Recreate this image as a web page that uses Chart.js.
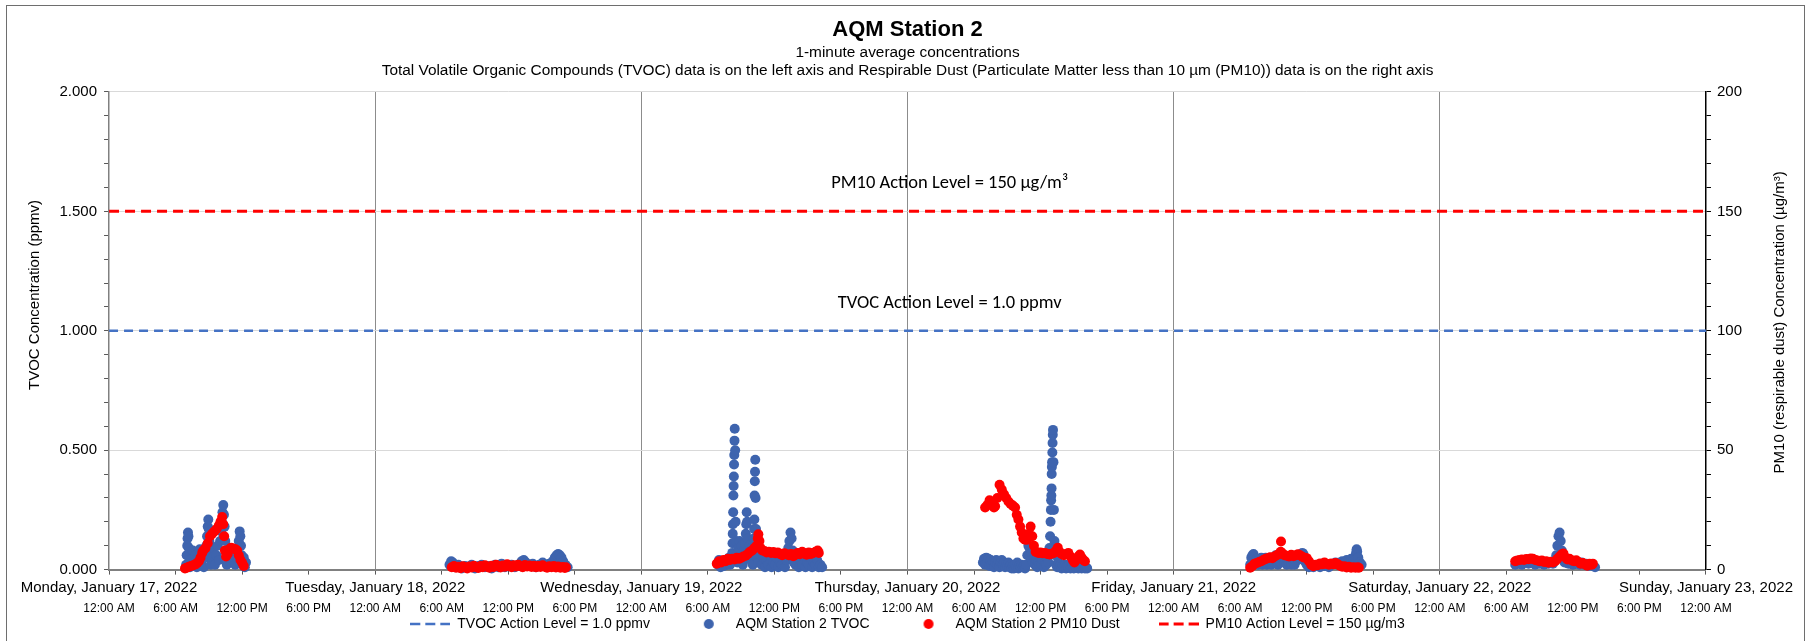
<!DOCTYPE html>
<html>
<head>
<meta charset="utf-8">
<title>AQM Station 2</title>
<script src="https://cdn.jsdelivr.net/npm/chart.js@4.4.1/dist/chart.umd.min.js"></script>
<style>
  html, body { margin: 0; padding: 0; background: #fff; }
  #wrap { position: relative; width: 1807px; height: 641px; overflow: hidden; }
  #frame { position: absolute; left: 6px; top: 5px; width: 1799px; height: 660px;
           border: 1.5px solid #6e6e6e; box-sizing: border-box; pointer-events: none; }
</style>
</head>
<body>
<div id="wrap">
  <canvas id="chart" width="1807" height="641"></canvas>
  <div id="frame"></div>
</div>
<script>
// x axis categories
const dayLabels = ['Monday, January 17, 2022', 'Tuesday, January 18, 2022', 'Wednesday, January 19, 2022',
  'Thursday, January 20, 2022', 'Friday, January 21, 2022', 'Saturday, January 22, 2022', 'Sunday, January 23, 2022'];
const timeLabels = ['12:00 AM', '6:00 AM', '12:00 PM', '6:00 PM'];

const tvocActionLevel = 1.0;   // ppmv
const pm10ActionLevel = 150;   // ug/m3

// readings: [hour of the day, value]
// TVOC (ppmv)
const tvocJan17 = [[6.95,0.02],[7.0,0.06],[7.05,0.1],[7.08,0.13],[7.12,0.155],[7.16,0.14],[7.2,0.09],[7.25,0.05],[7.3,0.01],
  [7.42,0.045],[7.55,0.08],[7.68,0.02],[7.8,0.06],[7.92,0.01],[8.05,0.05],[8.18,0.085],[8.3,0.03],[8.42,0.06],[8.55,0.01],
  [8.68,0.05],[8.78,0.1],[8.84,0.14],[8.9,0.18],[8.95,0.21],[9.0,0.17],[9.05,0.12],[9.1,0.07],[9.18,0.02],
  [9.3,0.05],[9.42,0.09],[9.55,0.02],[9.68,0.06],[9.8,0.1],[9.92,0.04],[10.02,0.12],[10.1,0.16],[10.17,0.2],[10.23,0.24],
  [10.3,0.27],[10.36,0.23],[10.42,0.18],[10.48,0.12],[10.55,0.07],[10.62,0.02],[10.75,0.05],[10.88,0.09],[11.0,0.03],
  [11.12,0.07],[11.25,0.08],[11.38,0.02],[11.5,0.05],[11.62,0.09],[11.7,0.12],[11.78,0.16],[11.84,0.14],[11.9,0.1],
  [11.96,0.06],[12.05,0.02],[12.15,0.05],[12.25,0.01],[12.35,0.03]];
const tvocJan18 = [[6.7,0.02],[6.85,0.035],[7.0,0.03],[7.2,0.01],[7.5,0.02],[7.8,0.005],[8.1,0.015],[8.4,0.01],[8.7,0.02],
  [9.0,0.005],[9.3,0.015],[9.6,0.02],[9.9,0.01],[10.2,0.015],[10.5,0.005],[10.8,0.02],[11.1,0.01],[11.4,0.025],[11.7,0.01],
  [12.0,0.015],[12.3,0.02],[12.6,0.01],[12.9,0.02],[13.2,0.035],[13.4,0.04],[13.6,0.03],[13.9,0.015],[14.2,0.025],[14.5,0.01],
  [14.8,0.02],[15.1,0.03],[15.4,0.02],[15.7,0.025],[16.0,0.035],[16.2,0.05],[16.35,0.06],[16.5,0.065],[16.65,0.06],
  [16.8,0.05],[16.95,0.035],[17.15,0.02],[17.35,0.01]];
const tvocJan19 = [[6.9,0.02],[7.0,0.04],[7.15,0.01],[7.3,0.03],[7.45,0.015],[7.6,0.04],[7.75,0.02],[7.9,0.05],[8.0,0.02],[8.12,0.04],
  [8.2,0.07],[8.22,0.11],[8.24,0.15],[8.26,0.19],[8.28,0.24],[8.3,0.31],[8.32,0.35],[8.34,0.39],[8.36,0.44],[8.38,0.48],
  [8.4,0.54],[8.42,0.59],[8.46,0.5],[8.5,0.2],[8.52,0.12],[8.55,0.06],[8.65,0.03],[8.75,0.09],[8.85,0.12],[8.95,0.05],
  [9.05,0.1],[9.15,0.02],[9.25,0.08],[9.35,0.11],[9.42,0.15],[9.46,0.19],[9.5,0.24],[9.54,0.2],[9.58,0.13],[9.65,0.07],
  [9.75,0.1],[9.85,0.04],[9.95,0.09],[10.05,0.02],[10.1,0.08],[10.14,0.13],[10.17,0.17],[10.19,0.21],[10.21,0.31],
  [10.23,0.37],[10.25,0.41],[10.27,0.46],[10.3,0.3],[10.34,0.17],[10.38,0.1],[10.45,0.05],[10.55,0.03],[10.7,0.08],
  [10.85,0.02],[11.0,0.05],[11.15,0.01],[11.3,0.04],[11.45,0.02],[11.6,0.06],[11.75,0.01],[11.9,0.03],[12.05,0.02],
  [12.2,0.05],[12.35,0.01],[12.5,0.03],[12.65,0.02],[12.8,0.06],[12.95,0.01],[13.1,0.04],[13.25,0.09],[13.35,0.12],
  [13.45,0.155],[13.55,0.13],[13.65,0.08],[13.75,0.03],[13.9,0.02],[14.05,0.05],[14.2,0.01],[14.35,0.04],[14.5,0.02],
  [14.65,0.06],[14.8,0.01],[14.95,0.03],[15.1,0.02],[15.25,0.05],[15.4,0.01],[15.55,0.03],[15.7,0.02],[15.85,0.04],
  [16.0,0.01],[16.15,0.02],[16.3,0.01]];
const tvocJan20 = [[6.8,0.03],[6.9,0.045],[7.0,0.02],[7.1,0.05],[7.2,0.03],[7.3,0.045],[7.4,0.015],[7.5,0.04],[7.6,0.02],
  [7.7,0.035],[7.8,0.01],[7.9,0.03],[8.0,0.04],[8.1,0.02],[8.2,0.035],[8.3,0.01],[8.4,0.03],[8.5,0.04],[8.6,0.02],[8.7,0.03],
  [8.8,0.01],[8.9,0.025],[9.0,0.015],[9.1,0.03],[9.2,0.01],[9.3,0.02],[9.4,0.005],[9.5,0.015],[9.6,0.005],[9.7,0.02],
  [9.8,0.01],[9.9,0.03],[10.0,0.005],[10.1,0.02],[10.2,0.01],[10.3,0.02],[10.4,0.01],[10.5,0.015],[10.6,0.005],[10.7,0.02],
  [10.8,0.06],[10.9,0.1],[11.0,0.09],[11.1,0.05],[11.2,0.07],[11.3,0.03],[11.4,0.05],[11.5,0.02],[11.6,0.04],[11.7,0.01],
  [11.8,0.03],[11.9,0.02],[12.0,0.05],[12.1,0.02],[12.2,0.04],[12.3,0.01],[12.4,0.03],[12.5,0.02],[12.6,0.05],[12.7,0.03],
  [12.8,0.09],[12.86,0.14],[12.9,0.2],[12.93,0.25],[12.95,0.29],[12.97,0.31],[12.99,0.34],[13.0,0.4],[13.02,0.43],
  [13.04,0.45],[13.06,0.49],[13.08,0.53],[13.1,0.565],[13.12,0.585],[13.16,0.45],[13.2,0.25],[13.25,0.12],[13.3,0.06],
  [13.4,0.02],[13.5,0.01],[13.6,0.03],[13.7,0.01],[13.8,0.02],[13.9,0.005],[14.0,0.015],[14.1,0.01],[14.2,0.02],[14.3,0.005],
  [14.4,0.015],[14.5,0.01],[14.6,0.02],[14.7,0.005],[14.8,0.01],[14.9,0.02],[15.0,0.005],[15.1,0.015],[15.2,0.01],
  [15.3,0.02],[15.4,0.005],[15.5,0.01],[15.6,0.015],[15.7,0.005],[15.8,0.01],[15.9,0.02],[16.0,0.005],[16.1,0.01],[16.2,0.005]];
const tvocJan21 = [[6.9,0.02],[7.0,0.05],[7.1,0.06],[7.2,0.065],[7.3,0.05],[7.4,0.03],[7.5,0.045],[7.6,0.02],[7.7,0.04],
  [7.8,0.03],[7.9,0.05],[8.0,0.02],[8.1,0.04],[8.2,0.03],[8.3,0.05],[8.4,0.02],[8.5,0.04],[8.6,0.03],[8.7,0.05],[8.8,0.02],
  [8.9,0.04],[9.0,0.05],[9.1,0.03],[9.2,0.06],[9.3,0.04],[9.4,0.02],[9.5,0.04],[9.6,0.03],[9.7,0.05],[9.8,0.065],[9.9,0.05],
  [10.0,0.03],[10.1,0.04],[10.2,0.02],[10.3,0.04],[10.4,0.03],[10.5,0.05],[10.6,0.02],[10.7,0.04],[10.8,0.03],[10.9,0.02],
  [11.0,0.035],[11.2,0.04],[11.4,0.05],[11.5,0.06],[11.6,0.07],[11.7,0.065],[11.8,0.05],[11.9,0.03],[12.0,0.02],[12.2,0.01],
  [12.4,0.02],[12.6,0.01],[12.8,0.015],[13.0,0.02],[13.2,0.01],[13.4,0.025],[13.6,0.015],[13.8,0.02],[14.0,0.01],[14.2,0.02],
  [14.4,0.025],[14.6,0.03],[14.8,0.02],[15.0,0.03],[15.2,0.035],[15.4,0.03],[15.6,0.04],[15.8,0.035],[16.0,0.045],
  [16.2,0.04],[16.35,0.055],[16.45,0.07],[16.5,0.085],[16.55,0.075],[16.65,0.05],[16.8,0.03],[16.95,0.02]];
const tvocJan22 = [[6.8,0.02],[6.9,0.035],[7.0,0.025],[7.2,0.035],[7.4,0.02],[7.6,0.03],[7.8,0.035],[8.0,0.025],[8.2,0.03],
  [8.4,0.035],[8.6,0.02],[8.8,0.03],[9.0,0.025],[9.2,0.03],[9.4,0.02],[9.6,0.03],[9.8,0.025],[10.0,0.03],[10.2,0.025],
  [10.4,0.04],[10.5,0.06],[10.6,0.1],[10.7,0.14],[10.8,0.155],[10.9,0.12],[11.0,0.08],[11.1,0.05],[11.25,0.03],[11.4,0.035],
  [11.6,0.025],[11.8,0.03],[12.0,0.02],[12.2,0.03],[12.4,0.025],[12.6,0.02],[12.8,0.03],[13.0,0.02],[13.2,0.025],
  [13.4,0.015],[13.6,0.02],[13.8,0.015],[14.0,0.01]];

// PM10 dust (ug/m3)
const pm10Jan17 = [[6.85,0.5],[7.0,0.8],[7.2,1.2],[7.4,1.5],[7.6,1.8],[7.8,2.2],[7.95,2.8],[8.1,3.5],[8.25,5],[8.4,7],
  [8.5,8],[8.7,9],[8.9,11],[9.1,14],[9.3,15],[9.5,16],[9.7,17],[9.9,18.5],[10.05,20],[10.2,22],[10.3,19],[10.38,14],
  [10.45,8],[10.55,5.5],[10.7,6.5],[10.85,8.5],[11.0,9.2],[11.2,8.8],[11.4,8.5],[11.55,8],[11.7,6],[11.85,4],[12.0,2.9],[12.15,1.5]];
const pm10Jan18 = [[6.9,1.0],[7.1,1.5],[7.3,0.8],[7.5,1.2],[7.7,0.6],[7.9,1.4],[8.1,1.0],[8.3,0.5],[8.5,1.3],[8.7,0.9],
  [8.9,1.6],[9.1,1.1],[9.3,0.7],[9.5,1.5],[9.7,1.0],[9.9,1.8],[10.1,1.2],[10.3,0.8],[10.5,1.6],[10.7,1.1],[10.9,2.0],
  [11.1,1.4],[11.3,0.9],[11.5,1.7],[11.7,1.2],[11.9,2.2],[12.1,1.5],[12.3,1.0],[12.5,1.8],[12.7,1.3],[12.9,2.0],[13.1,1.4],
  [13.3,1.0],[13.5,1.9],[13.7,1.3],[13.9,1.7],[14.1,1.1],[14.3,1.6],[14.5,1.0],[14.7,1.5],[14.9,1.1],[15.1,1.8],[15.3,1.2],
  [15.5,0.8],[15.7,1.4],[15.9,1.0],[16.1,1.5],[16.3,0.9],[16.5,1.3],[16.7,0.8],[16.9,1.1],[17.1,0.7],[17.2,1.0]];
const pm10Jan19 = [[6.8,2.5],[7.0,3.5],[7.2,3],[7.4,4],[7.6,3.5],[7.8,4.5],[8.0,4],[8.2,4.5],[8.4,4.2],[8.6,5],[8.8,4.5],
  [9.0,5],[9.2,5.5],[9.4,5.8],[9.6,6.5],[9.8,7.5],[10.0,8],[10.2,9],[10.4,10],[10.5,13],[10.55,14.8],[10.65,12],[10.75,9],
  [10.9,8],[11.1,7.8],[11.3,7.2],[11.5,7.5],[11.7,7],[11.9,7.4],[12.1,6.8],[12.3,7.2],[12.5,6.5],[12.7,6],[12.9,6.8],
  [13.1,6.4],[13.3,6],[13.5,6.5],[13.7,5.6],[13.9,6.2],[14.1,7],[14.3,6.4],[14.5,7.5],[14.7,6.8],[14.9,6.2],[15.1,7.2],
  [15.3,6.5],[15.5,7],[15.7,7.5],[15.9,8],[16.0,7]];
const pm10Jan20 = [[7.0,26],[7.2,27],[7.4,29],[7.6,28],[7.8,26],[7.9,26.5],[8.1,30],[8.3,35.5],[8.5,33.5],[8.7,31.5],
  [8.9,30],[9.1,28.5],[9.3,27.5],[9.5,26.8],[9.7,26],[9.85,23],[10.0,21],[10.15,18],[10.3,15.5],[10.45,13],[10.6,12.5],
  [10.8,12.5],[10.95,15],[11.1,18],[11.25,14],[11.4,10],[11.55,7.5],[11.7,7.2],[11.85,7],[12.0,7.2],[12.2,6.8],[12.4,7],
  [12.6,6.5],[12.8,6.3],[13.0,6.6],[13.2,7],[13.4,8],[13.55,9.2],[13.7,7.5],[13.9,6.5],[14.1,6],[14.3,6.5],[14.5,7],
  [14.7,5.5],[14.9,4],[15.05,3],[15.2,4],[15.4,5.5],[15.55,6.3],[15.7,5],[15.85,4],[16.0,3.5]];
const pm10Jan21 = [[6.9,0.8],[7.1,1.5],[7.3,2.5],[7.5,2.8],[7.7,3.2],[7.9,3.5],[8.1,4],[8.3,4.5],[8.5,4.8],[8.7,5.2],
  [8.9,4.8],[9.1,5.5],[9.3,6],[9.5,6.5],[9.65,7.5],[9.68,11.8],[9.8,6.8],[10.0,6],[10.2,5.8],[10.4,5.5],[10.6,6.2],[10.8,5.6],
  [11.0,6],[11.2,6.4],[11.4,6],[11.6,5.4],[11.8,5],[12.0,4.8],[12.2,3.5],[12.4,2],[12.6,1.4],[12.8,2],[13.0,1.8],[13.2,2.6],
  [13.4,2.2],[13.6,3],[13.8,2.4],[14.0,2],[14.2,2.6],[14.4,2.2],[14.6,2.8],[14.8,2.2],[15.0,1.6],[15.2,1.2],[15.4,1.4],
  [15.6,0.9],[15.8,1.2],[16.0,0.8],[16.2,1.0],[16.4,0.8],[16.6,1.0],[16.7,0.8]];
const pm10Jan22 = [[6.8,3.5],[7.0,3.8],[7.2,4],[7.4,4.2],[7.6,4],[7.8,4.4],[8.0,4.3],[8.2,4.6],[8.4,4.5],[8.6,4],[8.8,3.8],
  [9.0,3.5],[9.2,3.8],[9.4,3.2],[9.6,3.5],[9.8,2.9],[10.0,3.3],[10.2,3],[10.4,3.5],[10.6,4.5],[10.8,5.5],[11.0,6.4],
  [11.15,6.7],[11.3,5.2],[11.5,4.2],[11.7,4.5],[11.9,3.8],[12.1,3.5],[12.3,3.9],[12.5,3.2],[12.7,2.5],[12.9,2.8],[13.1,2.2],
  [13.3,1.6],[13.5,2.4],[13.7,2.0],[13.8,2.5]];

const tvocDays = [tvocJan17, tvocJan18, tvocJan19, tvocJan20, tvocJan21, tvocJan22];
const pm10Days = [pm10Jan17, pm10Jan18, pm10Jan19, pm10Jan20, pm10Jan21, pm10Jan22];

// hours since Monday 12:00 AM
function toPoints(days) {
  const pts = [];
  days.forEach((day, d) => day.forEach(r => pts.push({ x: d * 24 + r[0], y: r[1] })));
  return pts;
}

const blueDot = '#3E64AE';
const blueLine = '#4472C4';
const red = '#FF0000';

function dashIcon(color, w) {
  const c = document.createElement('canvas');
  c.width = 40; c.height = 4;
  const g = c.getContext('2d');
  g.strokeStyle = color; g.lineWidth = w; g.setLineDash([10, 5]);
  g.beginPath(); g.moveTo(0, 2); g.lineTo(40, 2); g.stroke();
  return c;
}
function dotIcon(color) {
  const c = document.createElement('canvas');
  c.width = 12; c.height = 12;
  const g = c.getContext('2d');
  g.fillStyle = color;
  g.beginPath(); g.arc(6, 6, 5, 0, Math.PI * 2); g.fill();
  return c;
}
const legendIcons = [dashIcon(blueLine, 2.5), dotIcon(blueDot), dotIcon(red), dashIcon(red, 3)];

const isMajor = (v, step) => Math.abs(v / step - Math.round(v / step)) < 1e-6;

// action level captions and both axis titles
const textPlugin = {
  id: 'textPlugin',
  afterDraw(chart) {
    const { ctx, scales } = chart;
    const xc = scales.x.getPixelForValue(75.8);
    ctx.save();
    ctx.fillStyle = '#000';
    ctx.textAlign = 'center';
    ctx.textBaseline = 'middle';
    ctx.font = '18.5px Carlito, Lato, sans-serif';
    ctx.fillText('PM10 Action Level = 150 µg/m³', xc, scales.y2.getPixelForValue(pm10ActionLevel) - 28);
    ctx.fillText('TVOC Action Level = 1.0 ppmv', xc, scales.y.getPixelForValue(tvocActionLevel) - 27);
    ctx.font = '15px "Liberation Sans", Arial, sans-serif';
    ctx.save();
    ctx.translate(35, scales.y.getPixelForValue(1.15));
    ctx.rotate(-Math.PI / 2);
    ctx.fillText('TVOC Concentration (ppmv)', 0, 0);
    ctx.restore();
    ctx.translate(chart.width - 27, scales.y2.getPixelForValue(103.5));
    ctx.rotate(-Math.PI / 2);
    ctx.fillText('PM10 (respirable dust) Concentration (µg/m³)', 0, 0);
    ctx.restore();
  }
};

Chart.defaults.font.family = '"Liberation Sans", Arial, sans-serif';
Chart.defaults.color = '#000';

new Chart(document.getElementById('chart'), {
  type: 'scatter',
  data: {
    datasets: [
      {
        label: 'TVOC Action Level = 1.0 ppmv',
        data: [{ x: 0, y: tvocActionLevel }, { x: 144, y: tvocActionLevel }],
        showLine: true, borderColor: blueLine, borderWidth: 2.5, borderDash: [9, 6],
        pointRadius: 0, yAxisID: 'y', order: 1
      },
      {
        label: 'AQM Station 2 TVOC',
        data: toPoints(tvocDays),
        backgroundColor: blueDot, borderWidth: 0, pointRadius: 5, pointHoverRadius: 5,
        yAxisID: 'y', order: 3, clip: false
      },
      {
        label: 'AQM Station 2 PM10 Dust',
        data: toPoints(pm10Days),
        backgroundColor: red, borderWidth: 0, pointRadius: 5, pointHoverRadius: 5,
        yAxisID: 'y2', order: 2, clip: false
      },
      {
        label: 'PM10 Action Level = 150 µg/m3',
        data: [{ x: 0, y: pm10ActionLevel }, { x: 144, y: pm10ActionLevel }],
        showLine: true, borderColor: red, borderWidth: 3, borderDash: [10, 6],
        pointRadius: 0, yAxisID: 'y2', order: 0
      }
    ]
  },
  options: {
    responsive: false,
    animation: false,
    layout: { padding: { left: 52.5, right: 59, top: 0, bottom: 0 } },
    scales: {
      x: {
        type: 'linear', position: 'bottom', min: 0, max: 144, weight: 1,
        grid: {
          color: c => (c.tick && isMajor(c.tick.value, 24) && c.tick.value > 0 && c.tick.value < 144) ? '#8c8c8c' : 'rgba(0,0,0,0)',
          tickColor: '#595959', tickLength: 5, lineWidth: 1
        },
        border: { color: '#808080', width: 2 },
        ticks: {
          stepSize: 6, autoSkip: false, maxRotation: 0, padding: 4,
          font: { size: 15 },
          callback: v => isMajor(v, 24) ? dayLabels[Math.round(v / 24)] : ''
        }
      },
      x2: {
        type: 'linear', position: 'bottom', min: 0, max: 144, weight: 2,
        grid: { display: false, drawTicks: false },
        border: { display: false },
        ticks: {
          stepSize: 6, autoSkip: false, maxRotation: 0, padding: 1,
          font: { size: 12 },
          callback: v => timeLabels[Math.round(v / 6) % 4]
        }
      },
      y: {
        position: 'left', min: 0, max: 2,
        grid: {
          color: c => (c.tick && isMajor(c.tick.value, 0.5) && c.tick.value > 0) ? '#d9d9d9' : 'rgba(0,0,0,0)',
          tickColor: '#595959', tickLength: 5
        },
        border: { color: '#808080', width: 1.5 },
        ticks: {
          stepSize: 0.1, autoSkip: false, padding: 7, font: { size: 15 },
          callback: v => isMajor(v, 0.5) ? v.toFixed(3) : ''
        }
      },
      y2: {
        position: 'right', min: 0, max: 200,
        grid: { drawOnChartArea: false, tickColor: '#000', tickLength: 5 },
        border: { color: '#000', width: 1.5 },
        ticks: {
          stepSize: 10, autoSkip: false, padding: 6, font: { size: 15 },
          callback: v => isMajor(v, 50) ? String(v) : ''
        }
      }
    },
    plugins: {
      title: {
        display: true, text: 'AQM Station 2', fullSize: false,
        font: { size: 22, weight: 'bold' }, padding: { top: 17, bottom: 0 }
      },
      subtitle: {
        display: true, fullSize: false,
        text: ['1-minute average concentrations',
          'Total Volatile Organic Compounds (TVOC) data is on the left axis and Respirable Dust (Particulate Matter less than 10 µm (PM10)) data is on the right axis'],
        font: { size: 15.4, lineHeight: 1.2 }, color: '#000', padding: { top: 0, bottom: 11.6 }
      },
      legend: {
        position: 'bottom', fullSize: false, maxHeight: 26,
        labels: {
          usePointStyle: true, pointStyleWidth: 40, padding: 0,
          font: { size: 14 }, color: '#000',
          generateLabels(chart) {
            const items = Chart.defaults.plugins.legend.labels.generateLabels(chart);
            items.forEach(it => {
              it.pointStyle = legendIcons[it.datasetIndex];
              if (it.datasetIndex < 3) it.text = it.text + '          ';
            });
            return items.sort((a, b) => a.datasetIndex - b.datasetIndex);
          }
        }
      },
      tooltip: { enabled: false }
    }
  },
  plugins: [textPlugin]
});
</script>
</body>
</html>
